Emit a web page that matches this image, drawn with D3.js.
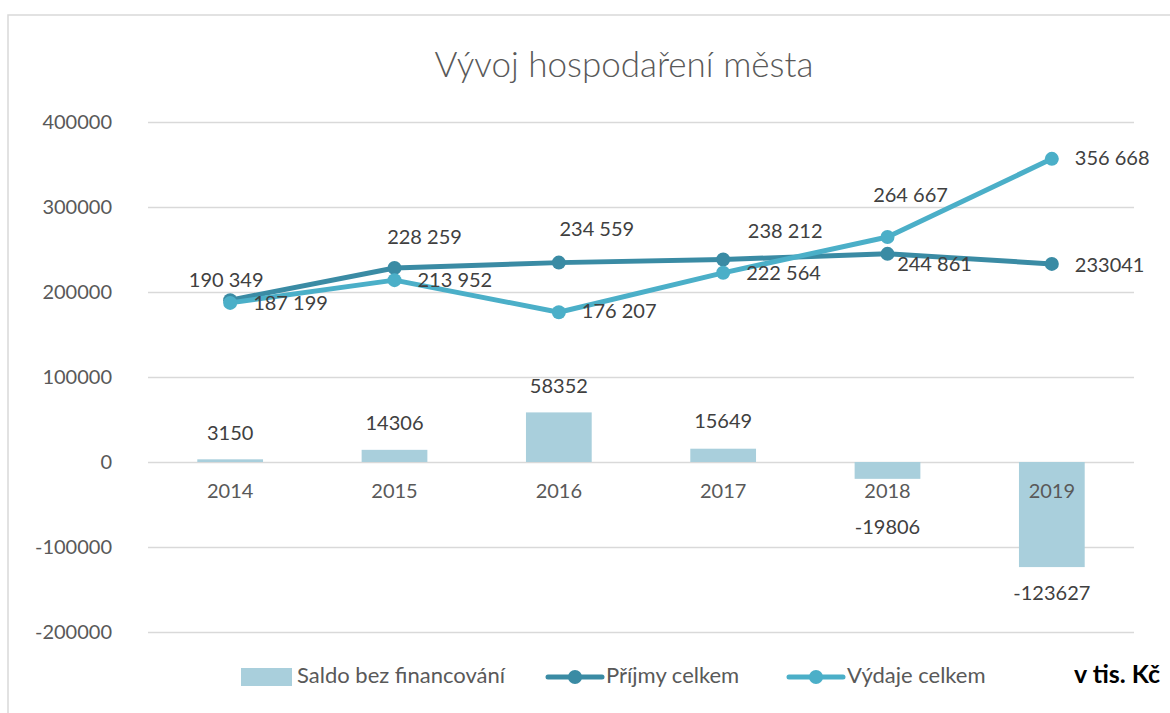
<!DOCTYPE html>
<html>
<head>
<meta charset="utf-8">
<script src="https://cdn.jsdelivr.net/npm/d3@7"></script>
<style>
  body { margin: 0; background: #fff; }
  svg { display: block; font-family: Lato, "Noto Sans", sans-serif; }
</style>
</head>
<body>
<svg id="chart" width="1170" height="713"></svg>
<script>
// data (v tis. Kč)
var years = ["2014", "2015", "2016", "2017", "2018", "2019"];
var saldo = [3150, 14306, 58352, 15649, -19806, -123627];
var prijmy = [190349, 228259, 234559, 238212, 244861, 233041];
var vydaje = [187199, 213952, 176207, 222564, 264667, 356668];
var prijmyLabels = ["190 349", "228 259", "234 559", "238 212", "244 861", "233041"];
var vydajeLabels = ["187 199", "213 952", "176 207", "222 564", "264 667", "356 668"];
var yTicks = [-200000, -100000, 0, 100000, 200000, 300000, 400000];

// label placement (Excel style, some moved by hand)
var prijmyPlace = [[-4, -18, "middle"], [30, -29, "middle"], [38, -32, "middle"], [62, -27, "middle"], [47, 12, "middle"], [23, 3, "start"]];
var vydajePlace = [[23, 2, "start"], [23, 2, "start"], [23, 1, "start"], [23, 2, "start"], [23, -40, "middle"], [23, 1, "start"]];
var saldoGap = [24, 25, 24, 26, 50, 28];

var colBar = "#a9cfdc",
    colPrijmy = "#3a8ba4",
    colVydaje = "#4bafc8",
    textCol = "#404040",
    tickCol = "#595959",
    gridCol = "#d9d9d9";

var margin = {top: 122, right: 36, bottom: 81, left: 148},
    W = 1170, H = 713,
    width = W - margin.left - margin.right,
    height = H - margin.top - margin.bottom;

var svg = d3.select("#chart");

// chart frame edges
svg.append("path")
    .attr("d", "M8 713 L8 15 L1170 15")
    .attr("fill", "none")
    .attr("stroke", gridCol)
    .attr("stroke-width", 1.5);

svg.append("text")
    .attr("x", 624)
    .attr("y", 68)
    .attr("text-anchor", "middle")
    .attr("dominant-baseline", "middle")
    .style("font-size", "35px")
    .style("font-weight", 300)
    .style("fill", tickCol)
    .text("Vývoj hospodaření města");

var g = svg.append("g")
    .attr("transform", "translate(" + [margin.left, margin.top] + ")");

var x = d3.scaleBand().domain(years).range([0, width]);
var y = d3.scaleLinear().domain([-200000, 400000]).range([height, 0]);
var bw = x.bandwidth() * 0.4;
var cx = function(i) { return x(years[i]) + x.bandwidth() / 2; };

// grid + y labels (plain hyphen minus, like Excel)
var yAxis = g.append("g")
    .call(d3.axisLeft(y).tickValues(yTicks).tickSize(-width).tickPadding(36).tickFormat(function(d) { return String(d); }));
yAxis.select(".domain").remove();
yAxis.selectAll(".tick line").attr("stroke", gridCol).attr("stroke-width", 1.5);
yAxis.selectAll(".tick text")
    .style("font-size", "20px")
    .style("fill", tickCol)
    .style("font-family", "Lato, 'Noto Sans', sans-serif");

// bars
g.selectAll("rect.saldo")
    .data(saldo)
    .enter()
    .append("rect")
        .attr("class", "saldo")
        .attr("x", function(d, i) { return cx(i) - bw / 2; })
        .attr("width", bw)
        .attr("y", function(d) { return y(Math.max(0, d)); })
        .attr("height", function(d) { return Math.abs(y(d) - y(0)); })
        .attr("fill", colBar);

g.selectAll("text.saldo")
    .data(saldo)
    .enter()
    .append("text")
        .attr("class", "saldo")
        .attr("x", function(d, i) { return cx(i); })
        .attr("y", function(d, i) { return d >= 0 ? y(d) - saldoGap[i] : y(d) + saldoGap[i]; })
        .attr("text-anchor", "middle")
        .attr("dominant-baseline", "middle")
        .style("font-size", "20px")
        .style("fill", textCol)
        .text(function(d) { return d; });

// category labels sit just under the zero line
g.selectAll("text.year")
    .data(years)
    .enter()
    .append("text")
        .attr("class", "year")
        .attr("x", function(d, i) { return cx(i); })
        .attr("y", y(0) + 31)
        .attr("text-anchor", "middle")
        .attr("dominant-baseline", "middle")
        .style("font-size", "20px")
        .style("fill", tickCol)
        .text(function(d) { return d; });

var line = d3.line()
    .x(function(d, i) { return cx(i); })
    .y(function(d) { return y(d); });

function drawSeries(values, labels, place, color) {
    g.append("path")
        .attr("d", line(values))
        .attr("fill", "none")
        .attr("stroke", color)
        .attr("stroke-width", 5)
        .attr("stroke-linejoin", "round")
        .attr("stroke-linecap", "round");

    g.append("g").selectAll("circle")
        .data(values)
        .enter()
        .append("circle")
            .attr("cx", function(d, i) { return cx(i); })
            .attr("cy", function(d) { return y(d); })
            .attr("r", 7)
            .attr("fill", color);

    return g.append("g").selectAll("text")
        .data(values)
        .enter()
        .append("text")
            .attr("x", function(d, i) { return cx(i) + place[i][0]; })
            .attr("y", function(d, i) { return y(d) + place[i][1]; })
            .attr("text-anchor", function(d, i) { return place[i][2]; })
            .attr("dominant-baseline", "middle")
            .style("font-size", "20px")
            .style("fill", textCol)
            .text(function(d, i) { return labels[i]; });
}

drawSeries(prijmy, prijmyLabels, prijmyPlace, colPrijmy);
drawSeries(vydaje, vydajeLabels, vydajePlace, colVydaje);

// legend
var legendData = [
    {name: "Saldo bez financování", type: "rect", color: colBar, x: 241},
    {name: "Příjmy celkem", type: "line", color: colPrijmy, x: 548},
    {name: "Výdaje celkem", type: "line", color: colVydaje, x: 789}
];
var ly = 677;

var leg = svg.append("g").attr("class", "legend")
    .selectAll("g")
    .data(legendData)
    .enter()
    .append("g")
        .attr("transform", function(d) { return "translate(" + [d.x, ly] + ")"; });

leg.filter(function(d) { return d.type === "rect"; })
    .append("rect")
        .attr("x", 0).attr("y", -9)
        .attr("width", 51).attr("height", 18)
        .attr("fill", function(d) { return d.color; });

leg.filter(function(d) { return d.type === "line"; })
    .append("line")
        .attr("x1", 0).attr("x2", 54)
        .attr("stroke", function(d) { return d.color; })
        .attr("stroke-width", 5)
        .attr("stroke-linecap", "round");

leg.filter(function(d) { return d.type === "line"; })
    .append("circle")
        .attr("cx", 27).attr("r", 7)
        .attr("fill", function(d) { return d.color; });

leg.append("text")
    .attr("x", function(d) { return d.type === "rect" ? 56 : 58; })
    .attr("dominant-baseline", "middle")
    .style("font-size", "22px")
    .style("fill", tickCol)
    .text(function(d) { return d.name; });

svg.append("text")
    .attr("x", 1160)
    .attr("y", ly)
    .attr("text-anchor", "end")
    .attr("dominant-baseline", "middle")
    .style("font-size", "25px")
    .style("font-weight", "bold")
    .style("fill", "#000")
    .text("v tis. Kč");
</script>
</body>
</html>
